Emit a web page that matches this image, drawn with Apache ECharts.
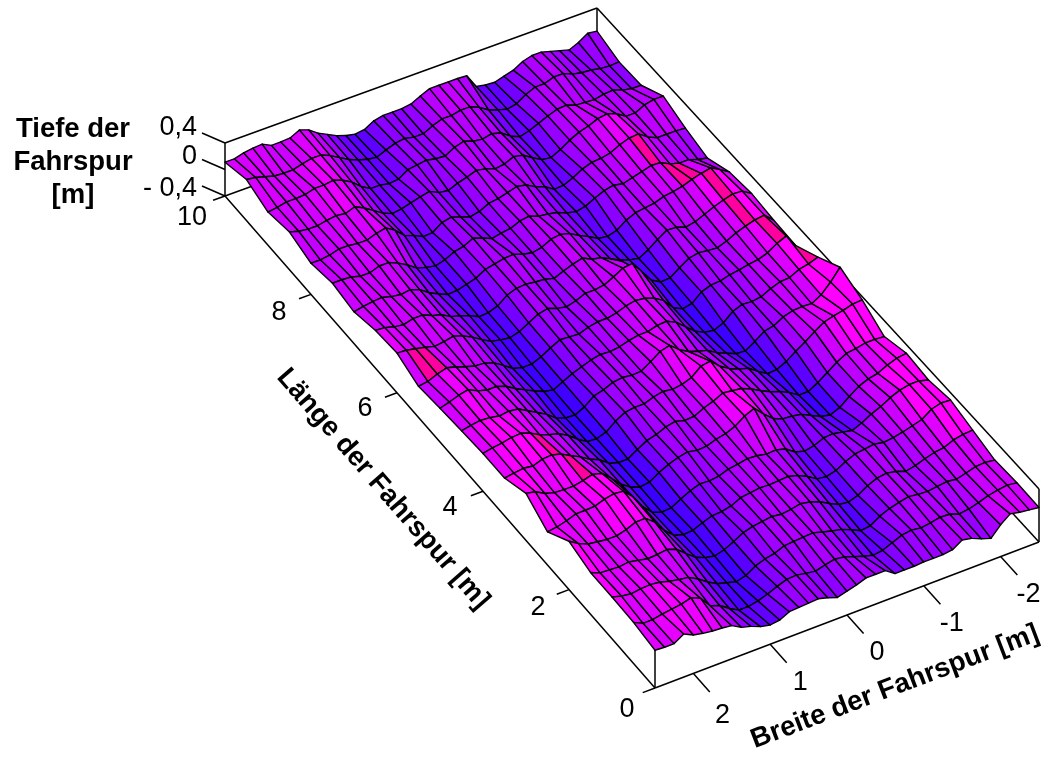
<!DOCTYPE html>
<html><head><meta charset="utf-8">
<style>html,body{margin:0;padding:0;background:#fff}#c{width:1048px;height:760px}</style>
<script src="https://cdn.jsdelivr.net/npm/echarts@6/dist/echarts.min.js"></script>
</head><body><div id="c"></div>
<script>
// depth in cm; rows run from L=10 m (back) to L=0 m (front), columns from W=+2.5 m to W=-2.5 m
const row00=[11,11,15,17,18,11,11,12,19,14,4,-3,-10,-15,-18,-16,-8,-5,-5,-5,-3,4,10,10,10,10,9,-12,-15,-16,-12,-8,0,4,4,0,-4,-8,-2,7,5];
const row01=[22,20,16,12,11,11,15,18,18,12,4,-4,-10,-14,-16,-10,-5,-3,-6,-6,1,6,6,9,9,3,-6,-11,-15,-12,-3,3,3,8,8,2,-1,-2,-5,-6,-5];
const row02=[10,12,15,15,16,20,20,22,17,9,-3,-11,-11,-14,-12,-3,-1,1,-2,-3,5,9,4,2,5,1,-9,-15,-11,-5,1,6,7,2,1,0,3,4,-1,-4,-4];
const row03=[17,13,11,11,14,16,14,19,12,3,-6,-12,-10,-6,-2,1,-6,-8,-2,2,7,4,-1,1,7,4,-5,-13,-15,-8,1,8,12,18,20,15,6,6,13,16,16];
const row04=[7,7,9,13,13,11,11,16,19,10,-3,-8,-15,-14,-4,-1,-6,-11,-8,-1,1,5,9,6,-2,-7,-16,-15,-9,-1,4,5,8,15,20,21,11,5,5,5,4];
const row05=[14,14,13,9,9,14,14,8,0,-10,-14,-17,-13,-6,-3,4,-1,-7,-4,-2,4,6,1,-1,-4,-10,-13,-10,-3,3,6,3,7,11,15,14,7,3,3,-2,-5];
const row06=[8,11,13,14,10,8,10,5,-5,-12,-18,-17,-13,-9,-1,2,5,6,1,-2,1,8,10,6,-2,-9,-17,-19,-15,-5,1,3,5,10,12,15,20,24,27,19,10];
const row07=[17,16,12,10,14,14,8,4,-4,-8,-13,-20,-19,-14,-3,2,3,1,0,-4,2,7,11,4,1,-6,-13,-18,-21,-13,-3,6,5,0,3,9,15,20,24,23,14];
const row08=[20,19,16,13,9,11,14,9,2,-7,-15,-18,-20,-16,-8,0,3,-2,-5,-1,5,5,7,14,22,24,6,-12,-20,-19,-9,0,3,1,0,5,12,17,21,23,10];
const row09=[7,9,15,19,15,10,6,5,0,-9,-19,-23,-23,-17,-9,-2,-3,-4,1,4,4,7,12,15,13,8,-1,-17,-24,-21,-9,-4,-3,1,3,6,8,13,22,28,8];
const row10=[11,15,20,23,16,12,12,7,-2,-9,-16,-22,-25,-18,-11,-6,-1,2,1,3,7,10,10,14,15,8,-4,-16,-23,-25,-19,-7,-2,-3,-1,6,11,12,19,22,27];
const row11=[14,17,19,18,15,17,15,7,-1,-9,-20,-25,-26,-19,-8,-4,2,4,2,3,12,22,26,14,6,1,-3,-12,-18,-24,-25,-16,-6,-3,5,9,10,9,17,31,48];
const row12=[17,20,22,25,26,21,13,8,4,-4,-15,-24,-25,-20,-9,-1,1,1,6,9,7,9,14,26,28,15,6,0,-4,-14,-23,-22,-15,-5,4,14,23,27,30,34,35];
const row13=[17,19,21,19,24,25,21,13,6,-3,-9,-20,-24,-24,-15,-7,-3,3,6,2,3,10,15,22,20,18,12,4,-3,-8,-15,-24,-24,-16,-6,4,12,14,17,17,16];
const row14=[31,28,20,16,15,15,18,22,18,5,-9,-19,-24,-22,-13,-6,-1,2,-1,0,5,8,14,24,30,16,4,-2,-3,-6,-13,-20,-23,-17,-6,4,10,13,20,25,27];
const row15=[10,12,16,21,21,22,27,30,28,14,-6,-20,-25,-24,-16,-9,-4,-5,-3,2,4,7,6,3,4,0,-10,-14,-11,-5,-4,-7,-10,-4,4,10,18,24,27,27,23];
const row16=[33,24,18,16,14,14,18,24,24,13,-5,-18,-22,-21,-15,-10,-9,-6,1,3,5,4,5,6,2,-5,-14,-16,-12,-4,2,4,6,3,5,8,12,16,26,30,29];
const row17=[23,17,16,15,17,14,11,12,14,9,-3,-14,-20,-23,-19,-12,-4,0,2,4,2,4,7,4,-1,-9,-16,-18,-13,-4,2,4,1,-4,-1,4,8,10,16,19,20];
const row18=[23,19,17,19,20,18,14,11,9,1,-9,-17,-21,-25,-21,-12,-7,-4,2,3,4,5,1,-3,-6,-12,-19,-17,-8,-2,2,5,3,2,4,6,4,8,12,13,11];
const row19=[22,15,15,18,20,22,26,20,3,-2,-12,-20,-20,-17,-12,-6,-1,0,-3,-5,-1,2,0,-5,-10,-14,-12,-6,0,2,0,2,5,4,-1,1,5,10,13,15,13];
const row20=[17,16,16,25,18,15,13,12,10,2,-2,-8,-11,-9,-2,-1,0,1,-3,-8,-4,0,5,5,5,-5,-5,-5,-4,-4,-4,-2,7,4,-2,-7,8,19,16,14,12];
const depthRows=[row00,row01,row02,row03,row04,row05,row06,row07,row08,row09,row10,row11,row12,row13,row14,row15,row16,row17,row18,row19,row20];

const lengthTicks=[0,2,4,6,8,10];
const widthTicks=[2,1,0,-1,-2];
const depthTicks=[0.4,0,-0.4];
const depthTickLabels=['0,4','0','- 0,4'];
const lengthTitle='Länge der Fahrspur [m]';
const widthTitle='Breite der Fahrspur [m]';
const depthTitle='Tiefe der\nFahrspur\n[m]';

// colour scale: depth (cm) to fill
const colorDepths=[-28,-18,-8,0,8,16,22];
const colorFills=[[40,0,255],[80,0,255],[128,0,255],[160,0,255],[192,0,255],[216,0,255],[255,0,255]];
// cells that read hot pink in the picture: row, column
const hotCells=[[4,34],[5,35],[5,36],[6,37],[7,37],[8,38],[9,39],[12,5],[13,6],[8,1],[8,2]];
const hotFill='rgb(255,0,160)';

// projection of (length m, width m, depth m) onto the plane shown by the two hidden axes
const corner={fl:[655,688],fr:[1039,542],bl:[225,196],br:[597,61]};
const zPx=53/0.8;
function project(L,W,z){
  const s=L/10,t=(2.5-W)/5;
  const f=k=>(1-s)*(1-t)*corner.fl[k]+(1-s)*t*corner.fr[k]+s*(1-t)*corner.bl[k]+s*t*corner.br[k];
  return [f(0),f(1)-(z+0.4)*zPx];
}
function colorOf(cm){
  const n=colorDepths.length;
  if(cm<=colorDepths[0])return 'rgb('+colorFills[0].join(',')+')';
  if(cm>=colorDepths[n-1])return 'rgb('+colorFills[n-1].join(',')+')';
  let k=0;while(cm>colorDepths[k+1])k++;
  const u=(cm-colorDepths[k])/(colorDepths[k+1]-colorDepths[k]);
  const c=colorFills[k].map((v,m)=>Math.round(v+u*(colorFills[k+1][m]-v)));
  return 'rgb('+c.join(',')+')';
}
const rows=depthRows.length,cols=row00.length;
const cells=[];
for(let i=0;i<rows-1;i++)for(let j=0;j<cols-1;j++)cells.push([i,j]);
const rowL=i=>10-i*0.5, colW=j=>2.5-j*0.125;
const at=(i,j)=>project(rowL(i),colW(j),depthRows[i][j]/100);

// box edges behind the surface
const boxEdges=[
 [[10,2.5,-.4],[10,2.5,.4]],[[10,2.5,.4],[10,-2.5,.4]],[[10,-2.5,.4],[0,-2.5,.4]],
 [[10,-2.5,-.4],[10,-2.5,.4]],[[0,-2.5,-.4],[0,-2.5,.4]],[[0,2.5,-.4],[0,2.5,.4]],
 [[0,2.5,-.4],[0,-2.5,-.4]],[[0,2.5,-.4],[10,2.5,-.4]],[[10,2.5,-.4],[10,-2.5,-.4]],[[10,-2.5,-.4],[0,-2.5,-.4]]
];
const seg=(api,a,b)=>{const p=api.coord(project(a[0],a[1],a[2])),q=api.coord(project(b[0],b[1],b[2]));
 return {type:'line',shape:{x1:p[0],y1:p[1],x2:q[0],y2:q[1]},style:{stroke:'#000',lineWidth:1.5}};};
const font='27px "Liberation Sans", Arial, sans-serif';
const boldFont='bold 27.5px "Liberation Sans", Arial, sans-serif';
const label=(api,text,p,dx,dy,align)=>{const c=api.coord(p);
 return {type:'text',x:c[0]+dx,y:c[1]+dy,style:{text:text,font:font,fill:'#000',align:align||'center',verticalAlign:'middle'}};};
const lengthOffset={0:[-28,22],2:[-31,18],4:[-33,16],6:[-32,16],8:[-32,18],10:[-33,22]};
const widthOffset={2:[29,42],1:[30,38],0:[30,38],'-1':[28,38],'-2':[28,38]};

const chart=echarts.init(document.getElementById('c'));
chart.setOption({
 animation:false,
 grid:{left:0,right:0,top:0,bottom:0},
 xAxis:{type:'value',min:0,max:1048,show:false},
 yAxis:{type:'value',min:0,max:760,inverse:true,show:false},
 tooltip:{show:false},
 series:[
  {type:'custom',coordinateSystem:'cartesian2d',silent:true,z:1,clip:false,data:[0],
   renderItem:(p,api)=>({type:'group',children:boxEdges.map(e=>seg(api,e[0],e[1]))})},
  {type:'custom',coordinateSystem:'cartesian2d',silent:true,z:2,clip:false,data:cells,
   encode:{x:0,y:1},
   renderItem:(p,api)=>{
     const i=api.value(0),j=api.value(1);
     const pts=[at(i,j),at(i,j+1),at(i+1,j+1),at(i+1,j)].map(q=>api.coord(q));
     const m=(depthRows[i][j]+depthRows[i][j+1]+depthRows[i+1][j+1]+depthRows[i+1][j])/4;
     const hot=hotCells.some(c=>c[0]===i&&c[1]===j);
     return {type:'polygon',shape:{points:pts},style:{fill:hot?hotFill:colorOf(m),stroke:'#000',lineWidth:1.4,lineJoin:'round'}};
   }},
  {type:'custom',coordinateSystem:'cartesian2d',silent:true,z:3,clip:false,data:[0],
   renderItem:(p,api)=>{
     const ch=[];
     lengthTicks.forEach(L=>{ch.push(seg(api,[L,2.5,-.4],[L,2.66,-.4]));
       const o=lengthOffset[L];
       ch.push(label(api,String(L),project(L,2.5,-.4),o[0],o[1]));});
     widthTicks.forEach(W=>{ch.push(seg(api,[0,W,-.4],[-0.38,W,-.4]));
       const o=widthOffset[W];
       ch.push(label(api,String(W),project(0,W,-.4),o[0],o[1]));});
     depthTicks.forEach((Z,k)=>{const c=project(10,2.5,Z),q=api.coord(c);
       ch.push({type:'line',shape:{x1:q[0],y1:q[1],x2:q[0]-23,y2:q[1]-10},style:{stroke:'#000',lineWidth:1.5}});
       ch.push(label(api,depthTickLabels[k],c,-28,[-15,-13,-7][k],'right'));});
     return {type:'group',children:ch};
   }}
 ],
 graphic:[
  {type:'text',x:73,y:162,z:10,style:{text:depthTitle,font:boldFont,lineHeight:33,fill:'#000',align:'center',verticalAlign:'middle'}},
  {type:'text',x:383,y:489,rotation:-49*Math.PI/180,z:10,style:{text:lengthTitle,font:boldFont,fill:'#000',align:'center',verticalAlign:'middle'}},
  {type:'text',x:895,y:687,rotation:20.8*Math.PI/180,z:10,style:{text:widthTitle,font:boldFont,fill:'#000',align:'center',verticalAlign:'middle'}}
 ]
});
</script></body></html>
